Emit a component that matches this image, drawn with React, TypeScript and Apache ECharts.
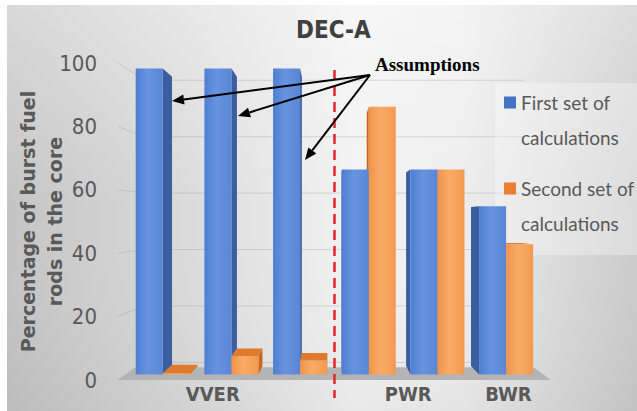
import React, { useEffect, useRef } from 'react';
import * as echarts from 'echarts';

// ---------- data ----------
const categories = ['VVER-1', 'VVER-2', 'VVER-3', 'PWR-1', 'PWR-2', 'BWR'];
const xTickLabels = ['', 'VVER', '', '', 'PWR', 'BWR'];
const firstSet = [100, 100, 100, 67, 67, 55];
const secondSet = [0.4, 6, 4.5, 87.5, 67, 42.5];
const yTicks = [0, 20, 40, 60, 80, 100];
const seriesNames = ['First set of\ncalculations', 'Second set of\ncalculations'];
const chartTitle = 'DEC-A';
const yAxisName = 'Percentage of burst fuel\nrods in the core';
const annotationText = 'Assumptions';

// ---------- style / geometry constants ----------
const VX = 332;
const VY = 220;
const D_FRONT = 0.035;
const D_BACK = 0.088;
const D_FLOOR = 0.08;
const D_WALL = 0.11;
const BAR_W = 28;
const NARROW = '"Liberation Sans Narrow", "Arial Narrow", "DejaVu Sans Condensed", sans-serif';
const GREY_TEXT = '#595959';

const labelShift: Record<string, number> = { VVER: 30, PWR: 66, BWR: 8 };

const ARROW_FROM: [number, number] = [370, 75];
const ARROW_TIPS: [number, number][] = [
  [172, 101],
  [238, 116],
  [305, 160],
];

const BLUE = {
  side: '#3a5e9f',
  top: '#4873c2',
  front: ['#4f7fd2', '#6893de', '#5886d6'],
};
const ORANGE = {
  side: '#c7681f',
  top: '#df7b2f',
  front: ['#f1934a', '#f8ac68', '#f3994f'],
};

const proj = (x: number, y: number, d: number): number[] => [x + d * (VX - x), y + d * (VY - y)];

const poly = (points: number[][], fill: any) => ({
  type: 'polygon',
  shape: { points },
  style: { fill },
  silent: true,
});

function barShapes(x0: number, x1: number, yb: number, yt: number, colors: any) {
  const fl = proj(x0, yb, D_FRONT);
  const fr = proj(x1, yb, D_FRONT);
  const frt = proj(x1, yt, D_FRONT);
  const flt = proj(x0, yt, D_FRONT);
  const bl = proj(x0, yb, D_BACK);
  const br = proj(x1, yb, D_BACK);
  const brt = proj(x1, yt, D_BACK);
  const blt = proj(x0, yt, D_BACK);
  const out: any[] = [];
  if (VX > x1) out.push(poly([fr, br, brt, frt], colors.side));
  else if (VX < x0) out.push(poly([fl, bl, blt, flt], colors.side));
  if (yt > VY) out.push(poly([flt, frt, brt, blt], colors.top));
  out.push(
    poly([fl, fr, frt, flt], {
      type: 'linear',
      x: 0,
      y: 0,
      x2: 1,
      y2: 0,
      colorStops: [
        { offset: 0, color: colors.front[0] },
        { offset: 0.45, color: colors.front[1] },
        { offset: 1, color: colors.front[2] },
      ],
    })
  );
  return out;
}

function arrowEls(from: [number, number], to: [number, number]) {
  const dx = to[0] - from[0];
  const dy = to[1] - from[1];
  const len = Math.hypot(dx, dy);
  const ux = dx / len;
  const uy = dy / len;
  const L = 12;
  const W = 5;
  const bx = to[0] - ux * L;
  const by = to[1] - uy * L;
  const px = -uy;
  const py = ux;
  return [
    {
      type: 'line',
      shape: { x1: from[0], y1: from[1], x2: bx, y2: by },
      style: { stroke: '#000', lineWidth: 2 },
      z: 20,
      silent: true,
    },
    {
      type: 'polygon',
      shape: { points: [to, [bx + px * W, by + py * W], [bx - px * W, by - py * W]] },
      style: { fill: '#000' },
      z: 20,
      silent: true,
    },
  ];
}

export default function App() {
  const ref = useRef<HTMLDivElement>(null);

  useEffect(() => {
    document.body.style.margin = '0';
    if (!ref.current) return;
    const chart = echarts.init(ref.current, null, { renderer: 'svg' });

    const rich: Record<string, any> = {};
    xTickLabels.forEach((t, i) => {
      rich['s' + i] = {
        fontFamily: NARROW,
        fontWeight: 'bold',
        fontSize: 20,
        color: GREY_TEXT,
        padding: [0, labelShift[t] || 0, 0, 0],
      };
    });

    const barData = categories.map((_, i) => [i, firstSet[i], secondSet[i]]);

    const option: any = {
      animation: false,
      title: {
        text: chartTitle,
        left: 296,
        top: 18,
        padding: 0,
        textStyle: { fontFamily: NARROW, fontWeight: 'bold', fontSize: 24, color: '#404040' },
      },
      legend: {
        orient: 'vertical',
        left: 504,
        top: 50,
        padding: 0,
        itemWidth: 12,
        itemHeight: 12,
        itemGap: -19,
        icon: 'rect',
        selectedMode: false,
        data: seriesNames,
        formatter: (name: string) => {
          const parts = name.split('\n');
          return `{sp| }\n{t|${parts[0]}}\n{t|${parts[1]}}`;
        },
        textStyle: {
          fontFamily: 'Lato',
          fontSize: 19,
          color: GREY_TEXT,
          lineHeight: 35,
          rich: {
            sp: { fontSize: 2, lineHeight: 35 },
            t: { fontFamily: 'Lato', fontSize: 19, color: GREY_TEXT, lineHeight: 35 },
          },
        },
      },
      grid: { left: 121, right: 89, top: 63, bottom: 31, containLabel: false, outerBoundsMode: 'none' },
      xAxis: {
        type: 'category',
        data: categories,
        axisLine: { show: false },
        axisTick: { show: false },
        splitLine: { show: false },
        axisLabel: {
          interval: 0,
          margin: 4,
          formatter: (_v: string, i: number) => (xTickLabels[i] ? `{s${i}|${xTickLabels[i]}}` : ''),
          rich,
        },
      },
      yAxis: {
        type: 'value',
        min: 0,
        max: 100,
        interval: 20,
        name: yAxisName,
        nameLocation: 'middle',
        nameRotate: 90,
        nameGap: 53,
        nameMoveOverlap: false,
        nameTextStyle: {
          fontFamily: '"DejaVu Sans", sans-serif',
          fontWeight: 'bold',
          fontSize: 19,
          color: GREY_TEXT,
          lineHeight: 27,
        },
        axisLine: { show: false },
        axisTick: { show: false },
        splitLine: { show: false },
        axisLabel: { margin: 24, fontFamily: NARROW, fontSize: 22, color: GREY_TEXT },
      },
      graphic: [
        {
          type: 'rect',
          shape: { x: 7, y: 5, width: 630, height: 406 },
          style: {
            fill: {
              type: 'linear',
              x: 0,
              y: 0,
              x2: 1,
              y2: 0,
              colorStops: [
                { offset: 0, color: '#c4c4c4' },
                { offset: 0.3, color: '#dcdcdc' },
                { offset: 0.55, color: '#f2f2f2' },
                { offset: 0.72, color: '#eeeeee' },
                { offset: 1, color: '#cbcbcb' },
              ],
            },
          },
          z: -20,
          silent: true,
        },
        {
          type: 'rect',
          shape: { x: 7, y: 5, width: 630, height: 406 },
          style: {
            fill: {
              type: 'linear',
              x: 0,
              y: 0,
              x2: 0,
              y2: 1,
              colorStops: [
                { offset: 0, color: 'rgba(255,255,255,0.35)' },
                { offset: 0.5, color: 'rgba(255,255,255,0)' },
                { offset: 1, color: 'rgba(0,0,0,0.04)' },
              ],
            },
          },
          z: -19,
          silent: true,
        },
        {
          type: 'rect',
          shape: { x: 495, y: 83, width: 142, height: 172 },
          style: { fill: 'rgba(255,255,255,0.32)' },
          z: 3,
          silent: true,
        },
        {
          type: 'text',
          x: 375,
          y: 64,
          style: {
            text: annotationText,
            font: 'bold 19px "Liberation Serif", serif',
            fill: '#000',
            verticalAlign: 'middle',
          },
          z: 20,
          silent: true,
        },
        ...ARROW_TIPS.flatMap((t) => arrowEls(ARROW_FROM, t)),
      ],
      series: [
        {
          type: 'custom',
          name: 'gridlines',
          z: 1,
          data: yTicks.map((v) => [0, v]),
          encode: { x: 0, y: 1 },
          renderItem: (params: any, api: any) => {
            const cs = params.coordSys;
            const y = api.coord([0, api.value(1)])[1];
            const xl = cs.x;
            const xr = cs.x + cs.width;
            return {
              type: 'polyline',
              shape: { points: [[xl - 3, y], proj(xl, y, D_WALL), proj(xr, y, D_WALL)] },
              style: { stroke: 'rgba(150,150,150,0.3)', lineWidth: 1, fill: 'none' },
              silent: true,
            };
          },
        },
        {
          type: 'custom',
          name: 'floor',
          z: 2,
          data: [[0, 0]],
          encode: { x: 0, y: 1 },
          renderItem: (params: any, api: any) => {
            const cs = params.coordSys;
            const y0 = api.coord([0, 0])[1];
            const xl = cs.x - 3;
            const xr = cs.x + cs.width + 3;
            return {
              type: 'group',
              children: [
                poly([proj(xl, y0, 0), proj(xr, y0, 0), proj(xr, y0, D_FLOOR), proj(xl, y0, D_FLOOR)], '#b4b4b4'),
              ],
            };
          },
        },
        {
          type: 'custom',
          name: 'bars',
          z: 3,
          data: barData,
          encode: { x: 0, y: [1, 2] },
          renderItem: (_params: any, api: any) => {
            const i = api.value(0);
            const c = api.coord([i, 0]);
            const cx = c[0];
            const yb = c[1];
            const y1 = api.coord([i, api.value(1)])[1];
            const y2 = api.coord([i, api.value(2)])[1];
            const blue = barShapes(cx - BAR_W, cx, yb, y1, BLUE);
            const orange = barShapes(cx, cx + BAR_W, yb, y2, ORANGE);
            const children = cx < VX ? [...blue, ...orange] : [...orange, ...blue];
            return { type: 'group', children };
          },
        },
        {
          type: 'custom',
          name: 'divider',
          z: 4,
          data: [[2, 0]],
          encode: { x: 0, y: 1 },
          renderItem: (_params: any, api: any) => {
            const x = (api.coord([2, 0])[0] + api.coord([3, 0])[0]) / 2;
            const yTop = api.coord([2, 100])[1] + 7;
            const yBot = api.coord([2, 0])[1] + 18;
            return {
              type: 'line',
              shape: { x1: x, y1: yTop, x2: x, y2: yBot },
              style: { stroke: '#e3262d', lineWidth: 2.5, lineDash: [10, 6] },
              silent: true,
            };
          },
        },
        { type: 'bar', name: seriesNames[0], data: [], itemStyle: { color: '#4472C4' } },
        { type: 'bar', name: seriesNames[1], data: [], itemStyle: { color: '#ED7D31' } },
      ],
    };

    chart.setOption(option);
    return () => chart.dispose();
  }, []);

  return <div ref={ref} style={{ width: 637, height: 411 }} />;
}
